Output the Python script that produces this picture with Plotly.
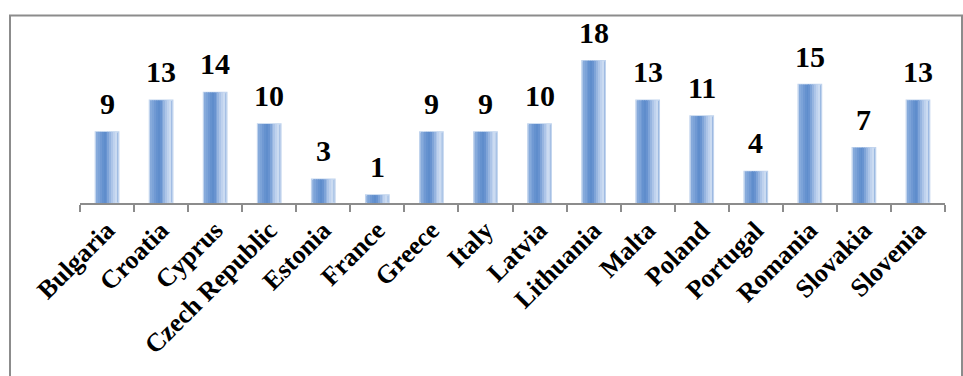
import plotly.graph_objects as go

countries = ["Bulgaria", "Croatia", "Cyprus", "Czech Republic", "Estonia", "France",
             "Greece", "Italy", "Latvia", "Lithuania", "Malta", "Poland", "Portugal",
             "Romania", "Slovakia", "Slovenia"]
values = [9, 13, 14, 10, 3, 1, 9, 9, 10, 18, 13, 11, 4, 15, 7, 13]

W, H = 963, 376
ML, MR, MT, MB = 80, 18, 45, 173

fig = go.Figure()

BW = 0.43
fig.add_trace(go.Bar(
    x=countries, y=values, width=BW,
    marker=dict(color="#7ea4d8", line=dict(color="#c0d3ed", width=1.5)),
    hoverinfo="skip",
))
# soft horizontal gradient approximated by narrow stripes
stripe_colors = ["#86aadb", "#7ca3d8", "#7099d3", "#6592cf", "#5f8dcc", "#6893d0",
                 "#7fa4d8", "#97b5e0", "#adc5e8", "#bfd2ee", "#cbdbf1"]
n = len(stripe_colors)
x0, x1 = -0.19, 0.19
sw = (x1 - x0) / n
for i, c in enumerate(stripe_colors):
    fig.add_trace(go.Bar(
        x=countries, y=values, width=sw * 1.05, offset=x0 + i * sw,
        marker=dict(color=c, line=dict(width=0)),
        hoverinfo="skip",
    ))

# value labels
for c, v in zip(countries, values):
    fig.add_annotation(
        x=c, y=v, text=str(v), showarrow=False,
        xanchor="center", yanchor="bottom", yshift=10,
        font=dict(family="Liberation Serif", size=30, color="black", weight="bold"),
    )

fig.update_layout(
    width=W, height=H,
    margin=dict(l=ML, r=MR, t=MT, b=MB),
    barmode="overlay",
    showlegend=False,
    plot_bgcolor="white", paper_bgcolor="white",
    font=dict(family="Liberation Serif", color="black"),
    xaxis=dict(
        type="category", tickangle=-45, tickson="boundaries",
        ticks="outside", ticklen=7, tickcolor="#8c8c8c", tickwidth=1.5,
        showline=True, linecolor="#8c8c8c", linewidth=1.5,
        showgrid=False, zeroline=False,
        tickfont=dict(family="Liberation Serif", size=26, color="black", weight="bold"),
    ),
    yaxis=dict(range=[0, 20], visible=False, showgrid=False),
)

pw = W - ML - MR
ph = H - MT - MB
def px_x(x):
    return (x - ML) / pw
def px_y(y):
    return (H - MB - y) / ph

fig.add_shape(type="rect", xref="paper", yref="paper",
              x0=px_x(10), x1=px_x(962), y0=px_y(390), y1=px_y(15.5),
              line=dict(color="#8c8c8c", width=2), fillcolor="rgba(0,0,0,0)", layer="below")

fig.write_html("out.html")
